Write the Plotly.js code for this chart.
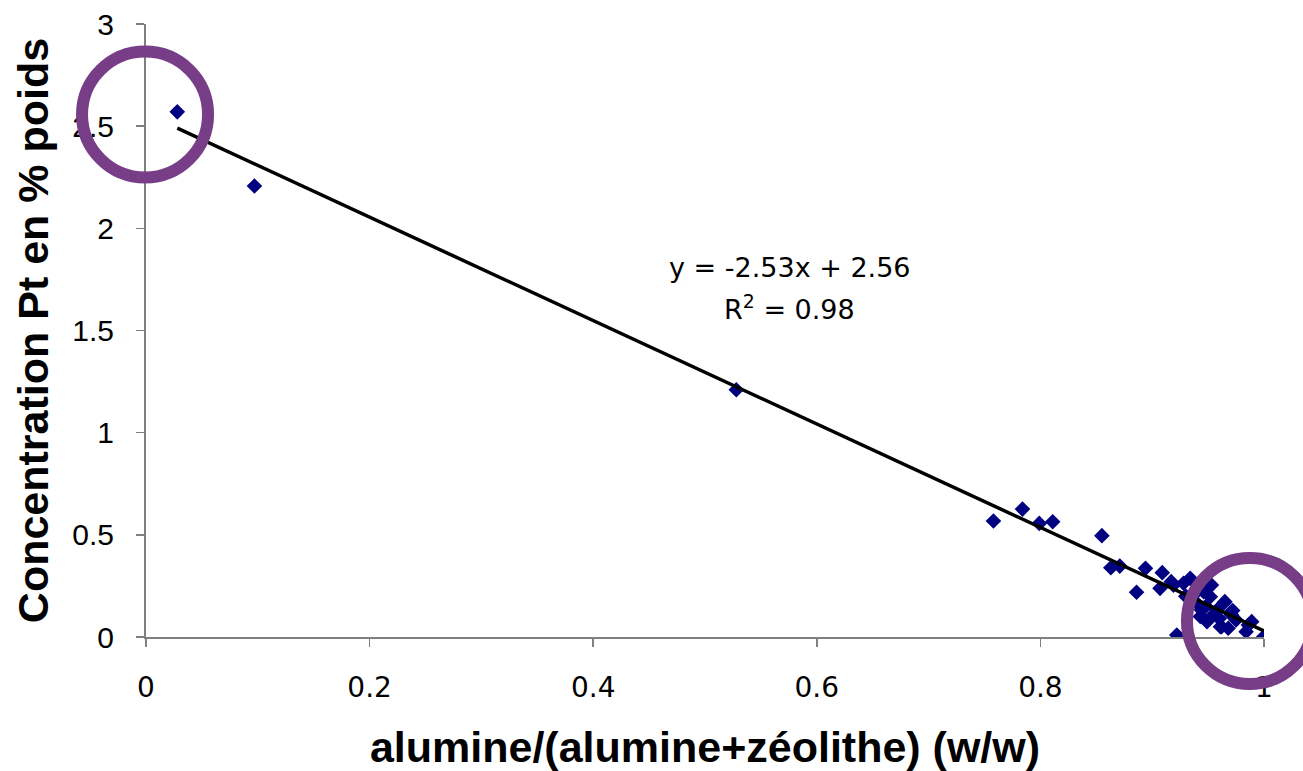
<!DOCTYPE html>
<html>
<head>
<meta charset="utf-8">
<script src="https://cdn.plot.ly/plotly-3.0.1.min.js"></script>
<style>html,body{margin:0;padding:0;background:#fff;}#chart{width:1303px;height:771px;}</style>
</head>
<body>
<div id="chart"></div>
<script>
// Data
const ratioX = [0.028, 0.097, 0.528, 0.758, 0.784, 0.799, 0.811, 0.855, 0.863, 0.871,
  0.886, 0.894, 0.909, 0.917, 0.907, 0.919, 0.928, 0.934, 0.922, 0.937,
  0.940, 0.944, 0.946, 0.943, 0.949, 0.952, 0.953, 0.958, 0.961, 0.962,
  0.964, 0.965, 0.968, 0.970, 0.971, 0.975, 0.984, 0.986, 0.989, 0.9995,
  0.935, 0.955, 0.948, 0.930, 0.960, 0.972];
const ptConc = [2.57, 2.207, 1.21, 0.568, 0.626, 0.556, 0.564, 0.496, 0.339, 0.347,
  0.219, 0.336, 0.315, 0.271, 0.238, 0.254, 0.263, 0.287, 0.01, 0.205,
  0.165, 0.132, 0.222, 0.10, 0.075, 0.197, 0.254, 0.132, 0.05, 0.05,
  0.165, 0.173, 0.043, 0.116, 0.108, 0.083, 0.026, 0.059, 0.075, 0.0,
  0.19, 0.11, 0.15, 0.20, 0.09, 0.13];
const trendX = [0.028, 1.0];
const trendY = [2.49, 0.03];
const xTickVals = [0, 0.2, 0.4, 0.6, 0.8, 1];
const xTickText = ["0", "0.2", "0.4", "0.6", "0.8", "1"];
const yTickVals = [0, 0.5, 1, 1.5, 2, 2.5, 3];
const yTickText = ["0", "0.5", "1", "1.5", "2", "2.5", "3"];
const equationLine = "y = -2.53x + 2.56";
const r2Line = "R<sup>2</sup> = 0.98";

const xTickFont = {family: "DejaVu Sans, Liberation Sans, Arial, sans-serif", size: 28, color: "#000"};
const yTickFont = {family: "Liberation Sans, Arial, sans-serif", size: 30, color: "#000"};
const titleFont = {family: "Liberation Sans, Arial, sans-serif", size: 43, color: "#000", weight: "bold"};
const annFont = {family: "DejaVu Sans, Liberation Sans, Arial, sans-serif", size: 27, color: "#000"};

const traces = [
  {
    x: ratioX, y: ptConc, type: "scatter", mode: "markers",
    marker: {symbol: "diamond", size: 12, color: "#000080", line: {width: 0}},
    showlegend: false
  },
  {
    x: trendX, y: trendY, type: "scatter", mode: "lines",
    line: {color: "#000", width: 3.5}, showlegend: false
  }
];

const layout = {
  width: 1303, height: 771,
  paper_bgcolor: "#fff", plot_bgcolor: "#fff",
  margin: {l: 146, r: 39, t: 24, b: 134, pad: 0},
  showlegend: false,
  xaxis: {
    range: [0, 1], autorange: false,
    tickvals: xTickVals, ticktext: xTickText,
    ticks: "outside", ticklen: 8, tickwidth: 1.5, tickcolor: "#808080",
    showline: true, linecolor: "#808080", linewidth: 2,
    showgrid: false, zeroline: false,
    tickfont: xTickFont, ticklabelstandoff: 16,
    title: {text: "<b>alumine/(alumine+zéolithe) (w/w)</b>", font: titleFont, standoff: 30},
    automargin: false
  },
  yaxis: {
    range: [0, 3], autorange: false,
    tickvals: yTickVals, ticktext: yTickText,
    ticks: "outside", ticklen: 8, tickwidth: 1.5, tickcolor: "#808080",
    showline: true, linecolor: "#808080", linewidth: 2,
    showgrid: false, zeroline: false,
    tickfont: yTickFont, ticklabelstandoff: 16,
    title: {text: "<b>Concentration Pt en % poids</b>", font: titleFont, standoff: 10},
    automargin: false
  },
  annotations: [
    {
      xref: "paper", yref: "paper", x: 0.5756, y: (637 - 267) / 613,
      xanchor: "center", yanchor: "middle", showarrow: false,
      text: equationLine, font: annFont
    },
    {
      xref: "paper", yref: "paper", x: 0.5756, y: (637 - 307) / 613,
      xanchor: "center", yanchor: "middle", showarrow: false,
      text: r2Line, font: annFont
    }
  ],
  shapes: [
    {type: "circle", xref: "paper", yref: "paper", x0: -0.0572, x1: 0.0555, y0: 0.7496, y1: 0.955,
     line: {color: "#773D87", width: 12}, fillcolor: "rgba(0,0,0,0)", layer: "above"},
    {type: "circle", xref: "paper", yref: "paper", x0: 0.9311, x1: 1.0438, y0: -0.0767, y1: 0.1289,
     line: {color: "#773D87", width: 12}, fillcolor: "rgba(0,0,0,0)", layer: "above"}
  ]
};

Plotly.newPlot("chart", traces, layout, {displayModeBar: false, staticPlot: true});
</script>
</body>
</html>
